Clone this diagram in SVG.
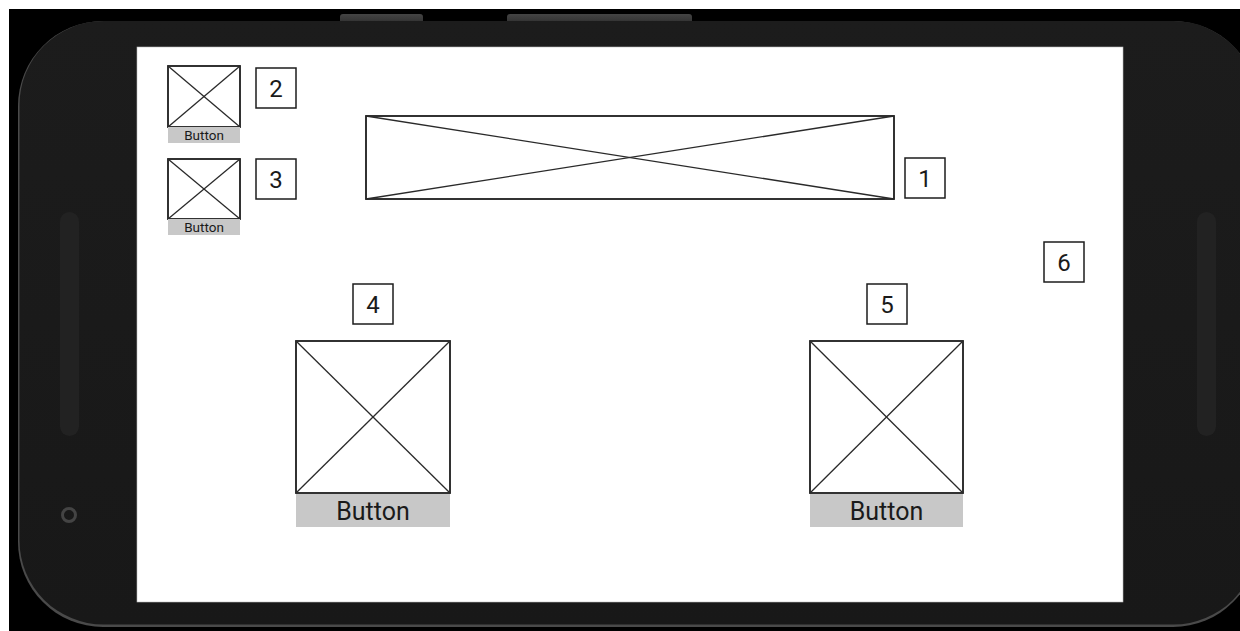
<svg xmlns="http://www.w3.org/2000/svg" width="1240" height="631" viewBox="0 0 1240 631">
<defs>
<style>
.frame{fill:none;stroke:#1c1c1c;stroke-width:1.8}
.diag{stroke:#2a2a2a;stroke-width:1.3}
.btn{fill:#c8c8c8}
.btxt{font-family:Roboto,"Liberation Sans",sans-serif;fill:#1a1a1a;text-anchor:middle}
.lbl{fill:#fff;stroke:#1c1c1c;stroke-width:1.5}
.ltxt{font-family:Roboto,"Liberation Sans",sans-serif;font-size:24px;fill:#1a1a1a;text-anchor:middle}
</style>
<linearGradient id="body" x1="0" y1="0" x2="0" y2="1">
<stop offset="0" stop-color="#1c1c1c"/>
<stop offset="1" stop-color="#181818"/>
</linearGradient>
<linearGradient id="topbtn" x1="0" y1="0" x2="0" y2="1">
<stop offset="0" stop-color="#444"/>
<stop offset="1" stop-color="#2a2a2a"/>
</linearGradient>
</defs>
<rect x="0" y="0" width="1240" height="631" fill="#fff"/>
<g id="device">
<rect x="9" y="9" width="1231" height="622" fill="#000"/>
<rect x="340" y="14" width="83" height="12" rx="3" fill="url(#topbtn)"/>
<rect x="507" y="14" width="185" height="12" rx="3" fill="url(#topbtn)"/>
<rect x="18" y="21" width="1240" height="606" rx="85" fill="#4a4a4a"/>
<rect x="19.5" y="21" width="1238" height="603.5" rx="84" fill="url(#body)"/>
<rect x="60" y="212" width="19" height="224" rx="9.5" fill="#222"/>
<rect x="1197" y="212" width="19" height="224" rx="9.5" fill="#222"/>
<circle cx="69" cy="515" r="6.5" fill="none" stroke="#444" stroke-width="3"/>
<rect x="137" y="47" width="986" height="555" fill="#fff" stroke="#bbb" stroke-width="0.6"/>
</g>
<g id="node-2">
<rect class="frame" x="168" y="66" width="72" height="61" fill="#fff"/>
<line class="diag" x1="168" y1="66" x2="240" y2="127"/>
<line class="diag" x1="240" y1="66" x2="168" y2="127"/>
<rect class="btn" x="168" y="127" width="72" height="16"/>
<text class="btxt" x="204" y="139.5" font-size="13.5">Button</text>
</g>
<g id="node-3">
<rect class="frame" x="168" y="159" width="72" height="60" fill="#fff"/>
<line class="diag" x1="168" y1="159" x2="240" y2="219"/>
<line class="diag" x1="240" y1="159" x2="168" y2="219"/>
<rect class="btn" x="168" y="219" width="72" height="16"/>
<text class="btxt" x="204" y="231.5" font-size="13.5">Button</text>
</g>
<g id="node-1">
<rect class="frame" x="366" y="116" width="528" height="83" fill="#fff"/>
<line class="diag" x1="366" y1="116" x2="894" y2="199"/>
<line class="diag" x1="894" y1="116" x2="366" y2="199"/>
</g>
<g id="node-4">
<rect class="frame" x="296" y="341" width="154" height="152" fill="#fff"/>
<line class="diag" x1="296" y1="341" x2="450" y2="493"/>
<line class="diag" x1="450" y1="341" x2="296" y2="493"/>
<rect class="btn" x="296" y="494" width="154" height="33"/>
<text class="btxt" x="373" y="520" font-size="25">Button</text>
</g>
<g id="node-5">
<rect class="frame" x="810" y="341" width="153" height="152" fill="#fff"/>
<line class="diag" x1="810" y1="341" x2="963" y2="493"/>
<line class="diag" x1="963" y1="341" x2="810" y2="493"/>
<rect class="btn" x="810" y="494" width="153" height="33"/>
<text class="btxt" x="886.5" y="520" font-size="25">Button</text>
</g>
<g id="labels">
<g id="label-1"><rect class="lbl" x="905" y="158" width="40" height="40"/><text class="ltxt" x="925" y="186.5">1</text></g>
<g id="label-2"><rect class="lbl" x="256" y="68" width="40" height="40"/><text class="ltxt" x="276" y="96.5">2</text></g>
<g id="label-3"><rect class="lbl" x="256" y="159" width="40" height="40"/><text class="ltxt" x="276" y="187.5">3</text></g>
<g id="label-4"><rect class="lbl" x="353" y="284" width="40" height="40"/><text class="ltxt" x="373" y="312.5">4</text></g>
<g id="label-5"><rect class="lbl" x="867" y="284" width="40" height="40"/><text class="ltxt" x="887" y="312.5">5</text></g>
<g id="label-6"><rect class="lbl" x="1044" y="242" width="40" height="40"/><text class="ltxt" x="1064" y="270.5">6</text></g>
</g>
<g id="connectors"/>
</svg>
